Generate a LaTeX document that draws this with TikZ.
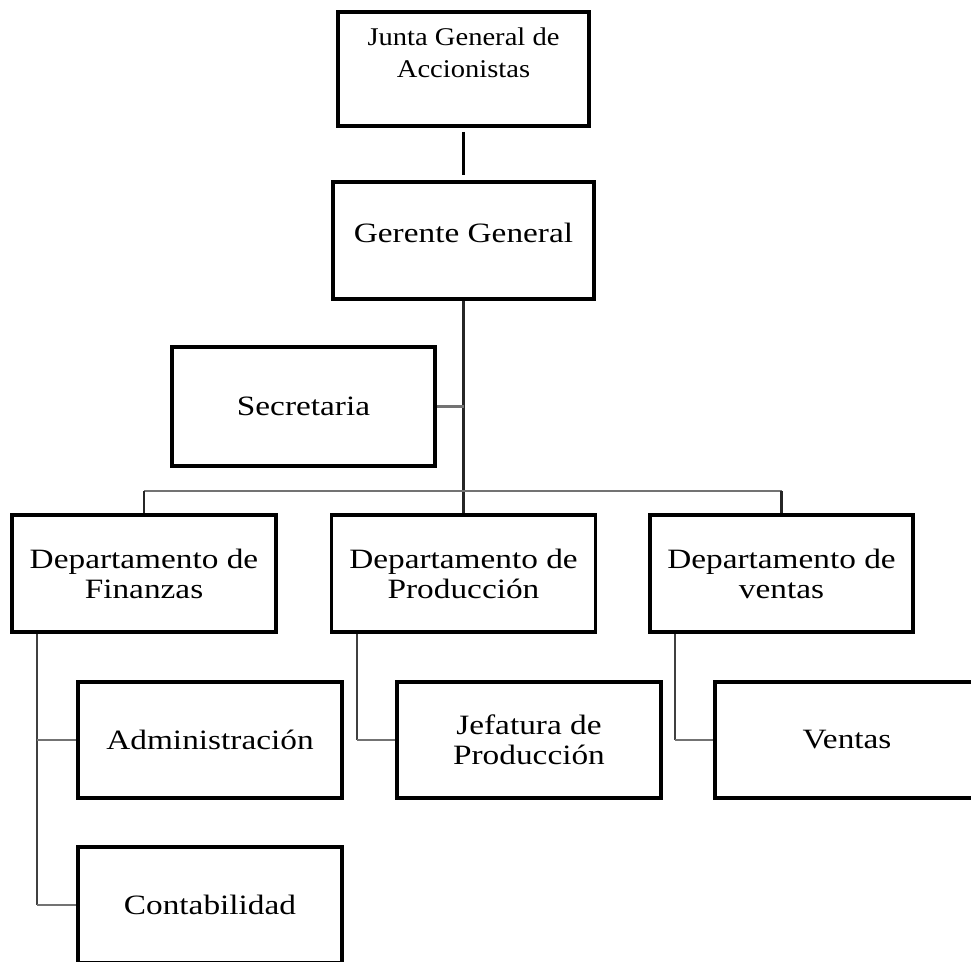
\documentclass[tikz,border=0pt]{standalone}
\usepackage{fontspec}
\newfontfamily\orgfont[FakeStretch=1.19]{Liberation Serif}
\newfontfamily\juntafont[FakeStretch=1.12]{Liberation Serif}
\usetikzlibrary{calc}
\begin{document}
\begin{tikzpicture}[x=1pt,y=-1pt,
  box/.style={draw=black,line width=3.5pt,minimum width=264pt,minimum height=117pt,
    inner sep=0pt,align=center,font=\orgfont\fontsize{28}{30}\selectfont},
  thickc/.style={draw=black,line width=3.2pt},
  mainc/.style={draw=black!85,line width=2.4pt},
  branch/.style={draw=black!55,line width=2.4pt},
  vertc/.style={draw=black!75,line width=2pt}]
\useasboundingbox (0,0) rectangle (971,961);
\clip (0,0) rectangle (971,961);
\fill[white] (0,0) rectangle (971,961);

\node[box,minimum width=251pt,minimum height=114pt,text depth=33pt,
  font=\juntafont\fontsize{25.5}{32}\selectfont] (J) at (463.5,69) {Junta General de\\Accionistas};
\node[box,minimum width=261pt,text depth=15pt] (G) at (463.5,240.5) {Gerente General};
\node[box,minimum width=263pt,minimum height=119pt] (S) at (303.5,406.5) {Secretaria};
\node[box] (F) at (144,573.5) {Departamento de\\Finanzas};
\node[box] (P) at (463.5,573.5) {Departamento de\\Producción};
\node[box,minimum width=263pt] (V) at (781.5,573.5) {Departamento de\\ventas};
\node[box,minimum height=116pt] (A) at (210,740) {Administración};
\node[box,minimum height=116pt] (JP) at (529,740) {Jefatura de\\Producción};
\node[box,minimum height=116pt] (VT) at (847,740) {Ventas};
\node[box,minimum height=116pt] (C) at (210,905) {Contabilidad};

\draw[thickc,shorten <=4pt,shorten >=5pt] (J.south) -- (G.north);
\draw[mainc] (G.south) -- (P.north);
\draw[branch] (S.east) -- (S.east -| G.south);
\coordinate (hy) at (0,491);
\draw[branch] (F.north |- hy) -- (V.north |- hy);
\draw[mainc] (F.north |- hy) -- (F.north);
\draw[mainc] (V.north |- hy) -- (V.north);

\coordinate (fx) at ($(F.south west)+(27,0)$);
\draw[vertc] (fx) -- (fx |- C.west);
\draw[branch] (fx |- A.west) -- (A.west);
\draw[branch] (fx |- C.west) -- (C.west);

\coordinate (px) at ($(P.south west)+(27,0)$);
\draw[vertc] (px) -- (px |- JP.west);
\draw[branch] (px |- JP.west) -- (JP.west);

\coordinate (vx) at ($(V.south west)+(27,0)$);
\draw[vertc] (vx) -- (vx |- VT.west);
\draw[branch] (vx |- VT.west) -- (VT.west);
\end{tikzpicture}
\end{document}
